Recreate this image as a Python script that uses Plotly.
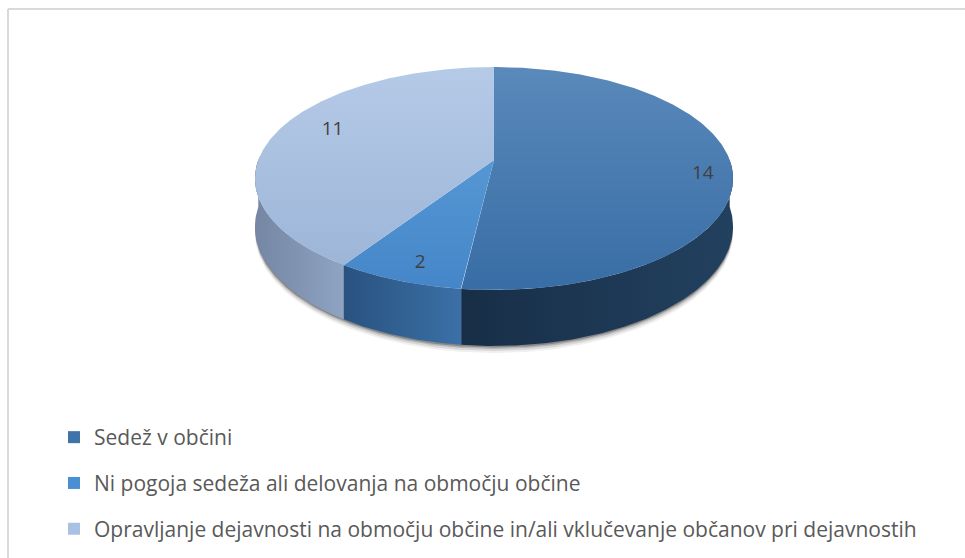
import numpy as np
import plotly.graph_objects as go

# ---- data ----
categories = [
    "Sedež v občini",
    "Ni pogoja sedeža ali delovanja na območju občine",
    "Opravljanje dejavnosti na območju občine in/ali vklučevanje občanov pri dejavnostih",
]
values = [14, 2, 11]

# ---- styles ----
top_colors = [("#5a89bb", "#386da5"), ("#62a2dd", "#4486c8"), ("#b5cae7", "#9ab3d6")]
wall_colors = [("#22415f", "#182e47"), ("#3b70a7", "#29527f"), ("#8ea4c2", "#7486a4")]
legend_colors = ["#3f73aa", "#4a8fd3", "#a9c2e3"]
label_radius = [0.88, 0.80, 0.74]
label_dy = [9, 10, -8]
FONT = "Open Sans"

W, H = 965, 558
# 3D-pie projection geometry (pixels)
CX, CY = 494, 160
RX, RY = 235.7, 108.4
K = 0.166          # perspective factor
DEPTH = 46.7       # thickness of the pie


def proj(theta_deg, r=1.0, down=0.0):
    t = np.radians(theta_deg)
    u = r * np.sin(t)
    v = r * np.cos(t)
    s = 1.0 / (1.0 + K * v)
    return CX + RX * u * s, CY - RY * v * s + DEPTH * s * down


total = float(sum(values))
cum = np.concatenate([[0.0], np.cumsum(values)]) / total * 360.0

fig = go.Figure()

# soft shadow under the pie
th = np.linspace(88, 272, 240)
for off, alpha in [(7, 0.06), (5, 0.10), (3, 0.16), (1.5, 0.25)]:
    xt, yt = proj(th)
    xb, yb = proj(th[::-1], down=1.0)
    fig.add_trace(go.Scatter(
        x=np.concatenate([xt, xb]), y=np.concatenate([yt, yb + off]),
        mode="lines", fill="toself", fillcolor=f"rgba(0,0,0,{alpha})",
        line=dict(width=0), hoverinfo="skip", showlegend=False))

top_y = proj(0)[1]
bot_y = proj(180)[1]

# side walls (front half only)
for i in range(len(values)):
    a = max(cum[i], 90.0)
    b = min(cum[i + 1], 270.0)
    if a >= b:
        continue
    th = np.linspace(a, b, 200)
    xt, yt = proj(th)
    xb, yb = proj(th[::-1], down=1.0)
    fig.add_trace(go.Scatter(
        x=np.concatenate([xt, xb]), y=np.concatenate([yt, yb]),
        mode="lines", fill="toself",
        fillgradient=dict(type="horizontal",
                          colorscale=[[0, wall_colors[i][1]], [1, wall_colors[i][0]]]),
        line=dict(width=0), hoverinfo="skip", showlegend=False))

# top faces
for i in range(len(values)):
    th = np.linspace(cum[i], cum[i + 1], 300)
    xa, ya = proj(th)
    fig.add_trace(go.Scatter(
        x=np.concatenate([[CX], xa, [CX]]), y=np.concatenate([[CY], ya, [CY]]),
        mode="lines", fill="toself",
        fillgradient=dict(type="vertical", start=top_y, stop=bot_y,
                          colorscale=[[0, top_colors[i][0]], [1, top_colors[i][1]]]),
        line=dict(width=0), hoverinfo="skip", showlegend=False))

# data labels
mid = (cum[:-1] + cum[1:]) / 2.0
lx, ly = proj(mid, r=np.array(label_radius))
fig.add_trace(go.Scatter(
    x=lx, y=ly + np.array(label_dy), mode="text", text=[str(v) for v in values],
    textfont=dict(family=FONT, size=19, color="#404040"),
    hoverinfo="skip", showlegend=False))

# legend entries
for i, c in enumerate(categories):
    fig.add_trace(go.Scatter(
        x=[None], y=[None], mode="markers", name=c, legendgroup=f"g{i}",
        marker=dict(symbol="square", size=12, color=legend_colors[i]),
        showlegend=True))

fig.update_layout(
    width=W, height=H,
    margin=dict(l=0, r=0, t=0, b=0),
    paper_bgcolor="white", plot_bgcolor="white",
    xaxis=dict(range=[0, W], visible=False, fixedrange=True),
    yaxis=dict(range=[H, 0], visible=False, fixedrange=True),
    showlegend=True,
    legend=dict(
        x=54 / W, y=1 - 417 / H, xanchor="left", yanchor="top",
        traceorder="grouped", tracegroupgap=15.5,
        font=dict(family=FONT, size=21, color="#595959"),
        bgcolor="rgba(0,0,0,0)", itemsizing="trace",
    ),
    shapes=[
        dict(type="line", xref="paper", yref="paper", x0=8 / W, x1=1.05, y0=1 - 9 / H, y1=1 - 9 / H,
             line=dict(color="#d9d9d9", width=2), layer="below"),
        dict(type="line", xref="paper", yref="paper", x0=8 / W, x1=8 / W, y0=-0.05, y1=1 - 9 / H,
             line=dict(color="#d9d9d9", width=2), layer="below"),
    ],
)

fig.write_html("out.html", config={"displayModeBar": False},
               post_script="document.body.style.margin='0';document.body.style.overflow='hidden';")
